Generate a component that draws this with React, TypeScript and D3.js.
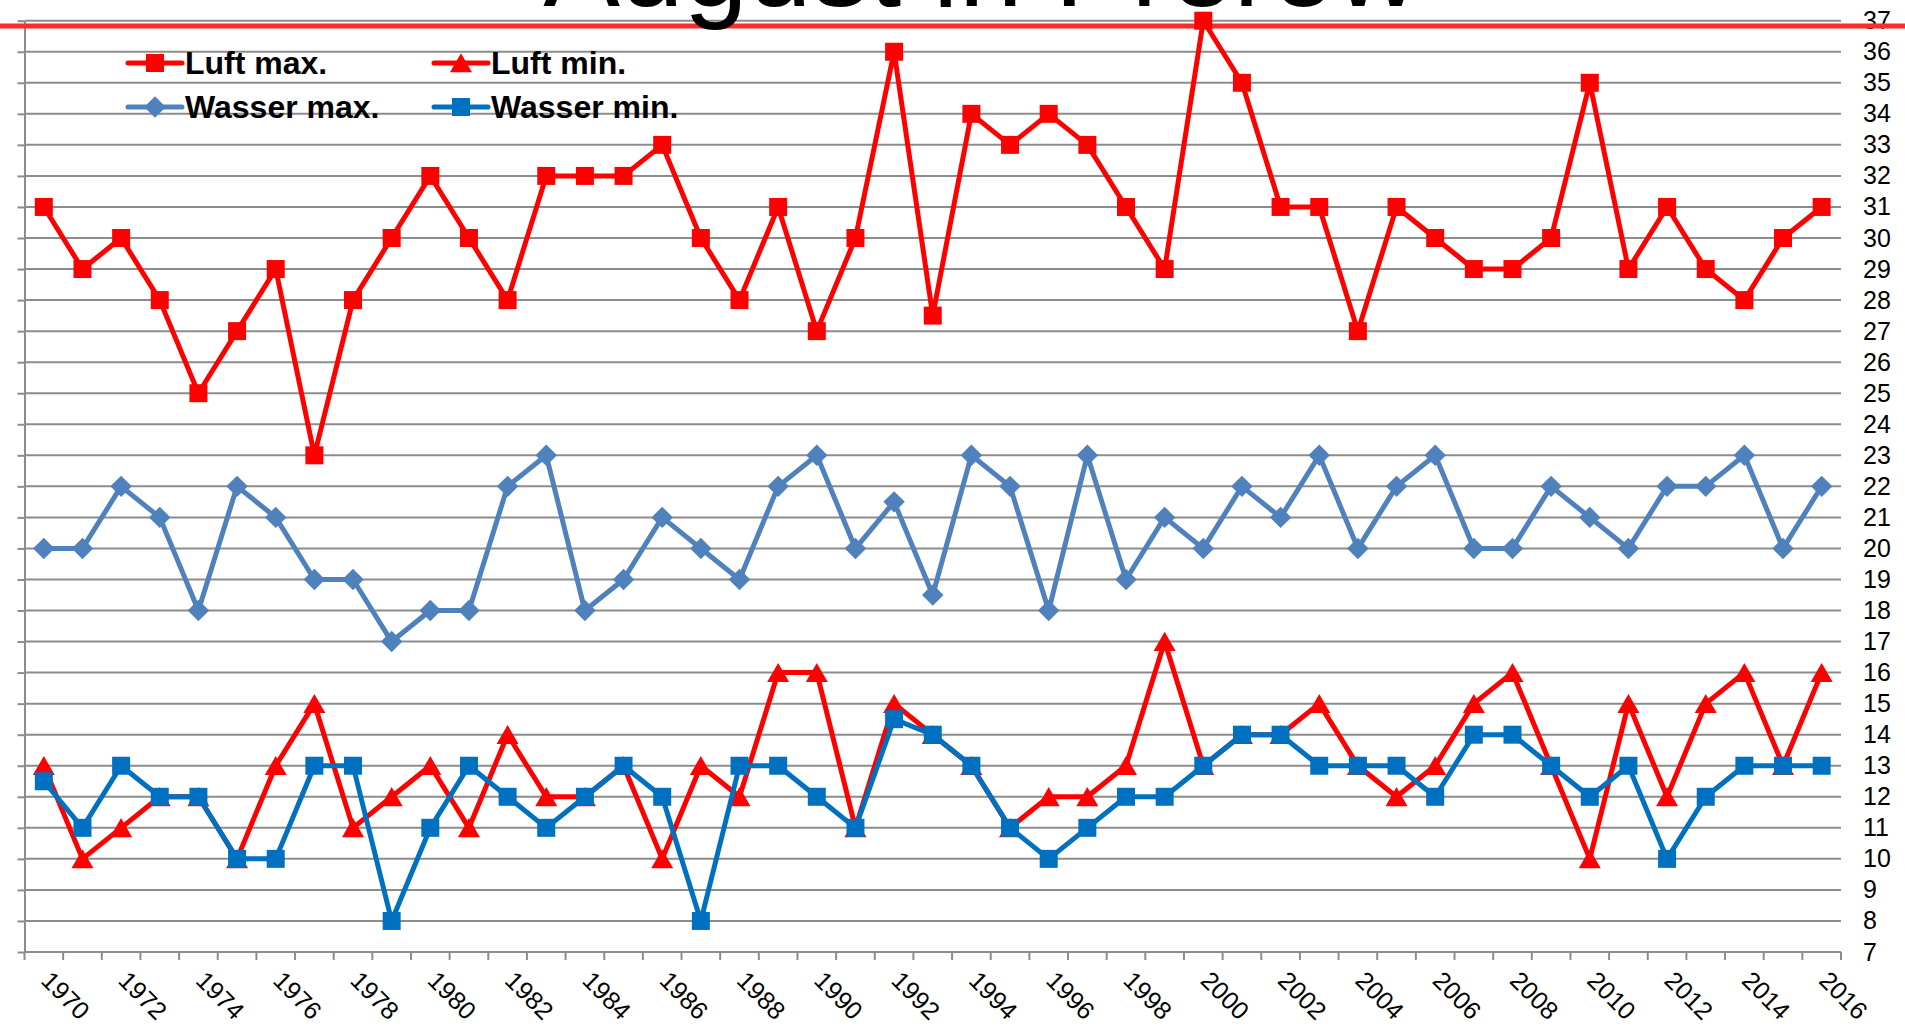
import * as d3 from 'd3'
import { useRef, useEffect } from 'react'

const years: number[] = [
    1970, 1971, 1972, 1973, 1974, 1975, 1976, 1977, 1978, 1979,
    1980, 1981, 1982, 1983, 1984, 1985, 1986, 1987, 1988, 1989,
    1990, 1991, 1992, 1993, 1994, 1995, 1996, 1997, 1998, 1999,
    2000, 2001, 2002, 2003, 2004, 2005, 2006, 2007, 2008, 2009,
    2010, 2011, 2012, 2013, 2014, 2015, 2016,
]

const luftMax: number[] = [
    31, 29, 30, 28, 25, 27, 29, 23, 28, 30,
    32, 30, 28, 32, 32, 32, 33, 30, 28, 31,
    27, 30, 36, 27.5, 34, 33, 34, 33, 31, 29,
    37, 35, 31, 31, 27, 31, 30, 29, 29, 30,
    35, 29, 31, 29, 28, 30, 31,
]

const luftMin: number[] = [
    13, 10, 11, 12, 12, 10, 13, 15, 11, 12,
    13, 11, 14, 12, 12, 13, 10, 13, 12, 16,
    16, 11, 15, 14, 13, 11, 12, 12, 13, 17,
    13, 14, 14, 15, 13, 12, 13, 15, 16, 13,
    10, 15, 12, 15, 16, 13, 16,
]

const wasserMax: number[] = [
    20, 20, 22, 21, 18, 22, 21, 19, 19, 17,
    18, 18, 22, 23, 18, 19, 21, 20, 19, 22,
    23, 20, 21.5, 18.5, 23, 22, 18, 23, 19, 21,
    20, 22, 21, 23, 20, 22, 23, 20, 20, 22,
    21, 20, 22, 22, 23, 20, 22,
]

const wasserMin: number[] = [
    12.5, 11, 13, 12, 12, 10, 10, 13, 13, 8,
    11, 13, 12, 11, 12, 13, 12, 8, 13, 13,
    12, 11, 14.5, 14, 13, 11, 10, 11, 12, 12,
    13, 14, 14, 13, 13, 13, 12, 14, 14, 13,
    12, 13, 10, 12, 13, 13, 13,
]

const yTicks: number[] = [
    7, 8, 9, 10, 11, 12, 13, 14, 15, 16, 17, 18, 19, 20, 21, 22,
    23, 24, 25, 26, 27, 28, 29, 30, 31, 32, 33, 34, 35, 36, 37,
]

const xLabels: number[] = [
    1970, 1972, 1974, 1976, 1978, 1980, 1982, 1984, 1986, 1988, 1990, 1992,
    1994, 1996, 1998, 2000, 2002, 2004, 2006, 2008, 2010, 2012, 2014, 2016,
]

const title = 'August in Prerow'

type Marker = 'square' | 'triangle' | 'diamond'
type Series = { name: string, color: string, marker: Marker, values: number[] }

// order matters: later series are painted on top
const series: Series[] = [
    { name: 'Luft max.', color: '#ff0000', marker: 'square', values: luftMax },
    { name: 'Luft min.', color: '#ff0000', marker: 'triangle', values: luftMin },
    { name: 'Wasser max.', color: '#4f81bd', marker: 'diamond', values: wasserMax },
    { name: 'Wasser min.', color: '#0070c0', marker: 'square', values: wasserMin },
]

const dimensions = { width: 1905, height: 1035 }
const plot = { left: 24.5, right: 1841, top: 20.7, bottom: 952 }
const gridColor = '#8c8c8c'
const font = '"Liberation Sans", Arial, Helvetica, sans-serif'

const markerPath = (marker: Marker) => {
    if (marker === 'triangle') return d3.symbol(d3.symbolTriangle, 210)()
    if (marker === 'diamond') return d3.symbol(d3.symbolSquare, 230)()
    return d3.symbol(d3.symbolSquare, 324)()
}

const markerTransform = (marker: Marker) => {
    if (marker === 'triangle') return 'translate(0,3)'
    if (marker === 'diamond') return 'rotate(45)'
    return null
}

export default function App() {
    const svgRef = useRef<SVGSVGElement>(null)

    useEffect(() => {
        const svg = d3.select(svgRef.current)
        svg.selectAll('*').remove()

        const x = d3.scaleBand<number>()
            .domain(years)
            .range([plot.left, plot.right])
            .padding(0)

        const y = d3.scaleLinear()
            .domain([7, 37])
            .range([plot.bottom, plot.top])

        const cx = (yr: number) => x(yr)! + x.bandwidth() / 2

        /**
         * horizontal gridlines
         */
        svg.append('g')
            .selectAll('line')
            .data(yTicks)
            .join('line')
            .attr('x1', plot.left)
            .attr('x2', plot.right)
            .attr('y1', d => y(d))
            .attr('y2', d => y(d))
            .attr('stroke', gridColor)
            .attr('stroke-width', 2)

        /**
         * left axis line with outward ticks (labels sit on the right)
         */
        const left = svg.append('g')
            .attr('transform', `translate(${plot.left},0)`)
            .call(d3.axisLeft(y).tickValues(yTicks).tickSize(7).tickSizeOuter(0).tickFormat(() => ''))
        left.select('.domain').attr('stroke', gridColor).attr('stroke-width', 2)
        left.selectAll('.tick line').attr('stroke', gridColor).attr('stroke-width', 2)

        const right = svg.append('g')
            .attr('transform', `translate(${plot.right},0)`)
            .call(d3.axisRight(y).tickValues(yTicks).tickSize(0).tickPadding(22).tickFormat(d3.format('d')))
        right.select('.domain').remove()
        right.selectAll('text')
            .attr('font-family', font)
            .attr('font-size', 25)
            .attr('fill', '#000')

        /**
         * bottom axis: ticks between categories
         */
        const boundaries = years.map(yr => x(yr)!).concat([plot.right])
        svg.append('g')
            .selectAll('line')
            .data(boundaries)
            .join('line')
            .attr('x1', d => d)
            .attr('x2', d => d)
            .attr('y1', plot.bottom)
            .attr('y2', plot.bottom + 8)
            .attr('stroke', gridColor)
            .attr('stroke-width', 2)

        svg.append('g')
            .selectAll('text')
            .data(xLabels)
            .join('text')
            .attr('transform', d => `translate(${cx(d) - 4},${plot.bottom + 30}) rotate(45)`)
            .attr('font-family', font)
            .attr('font-size', 25)
            .attr('fill', '#000')
            .text(d => d)

        /**
         * red decoration line below the title
         */
        svg.append('line')
            .attr('x1', 0)
            .attr('x2', dimensions.width)
            .attr('y1', 26)
            .attr('y2', 26)
            .attr('stroke', '#ff2a2a')
            .attr('stroke-width', 5)

        /**
         * series: line then markers
         */
        const line = d3.line<number>()
            .x((_, i) => cx(years[i]))
            .y(d => y(d))

        series.forEach(s => {
            const g = svg.append('g')
            g.append('path')
                .attr('d', line(s.values))
                .attr('fill', 'none')
                .attr('stroke', s.color)
                .attr('stroke-width', 5)
                .attr('stroke-linejoin', 'round')
            g.selectAll('g')
                .data(s.values)
                .join('g')
                .attr('transform', (d, i) => `translate(${cx(years[i])},${y(d)})`)
                .append('path')
                .attr('d', markerPath(s.marker))
                .attr('transform', markerTransform(s.marker))
                .attr('fill', s.color)
        })

        /**
         * legend, two columns
         */
        const legend = svg.append('g')
        series.forEach((s, i) => {
            const lx = i % 2 === 0 ? 128 : 434
            const ly = i < 2 ? 63 : 107
            const item = legend.append('g').attr('transform', `translate(${lx},${ly})`)
            item.append('line')
                .attr('x1', 0)
                .attr('x2', 54)
                .attr('stroke', s.color)
                .attr('stroke-width', 5)
                .attr('stroke-linecap', 'round')
            item.append('path')
                .attr('d', markerPath(s.marker))
                .attr('transform', `translate(27,0) ${markerTransform(s.marker) ?? ''}`)
                .attr('fill', s.color)
            item.append('text')
                .attr('x', 57)
                .attr('y', 11)
                .attr('font-family', font)
                .attr('font-weight', 'bold')
                .attr('font-size', 32)
                .attr('fill', '#000')
                .text(s.name)
        })

        /**
         * title, mostly cut off at the top of the slide
         */
        svg.append('text')
            .attr('x', 981)
            .attr('y', 6)
            .attr('text-anchor', 'middle')
            .attr('font-family', font)
            .attr('font-size', 115)
            .attr('fill', '#000')
            .text(title)
    }, [])

    return (
        <svg
            ref={svgRef}
            width={dimensions.width}
            height={dimensions.height}
            style={{ position: 'absolute', left: 0, top: 0, background: '#fff' }}
        />
    )
}
